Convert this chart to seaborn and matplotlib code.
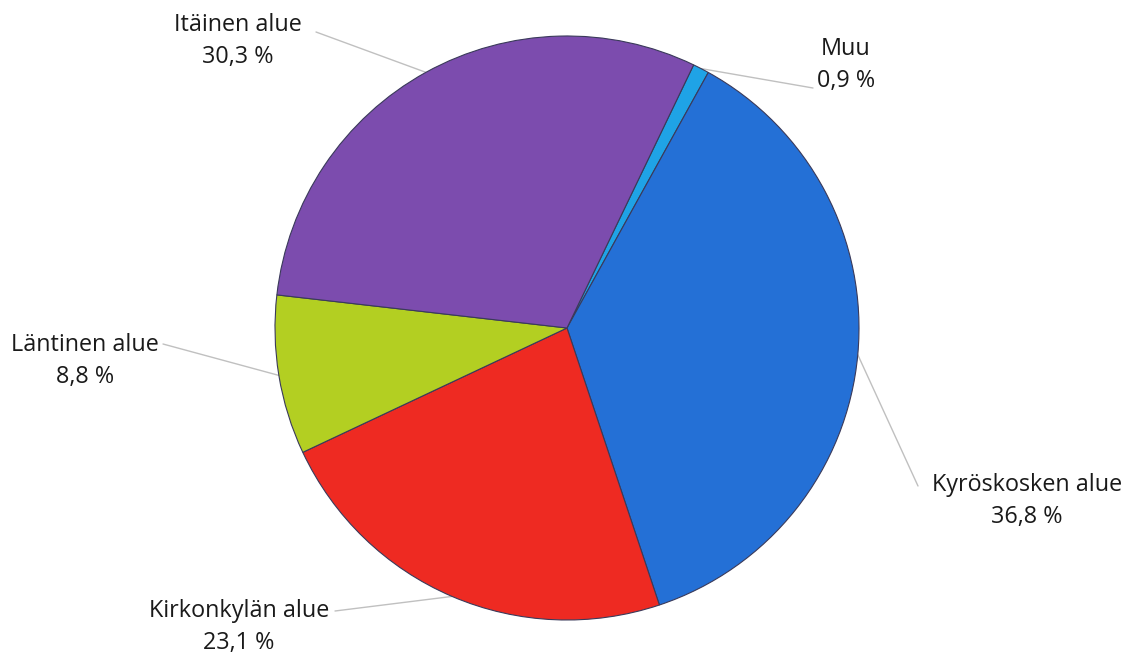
import matplotlib
matplotlib.use("Agg")
import matplotlib.pyplot as plt
import seaborn as sns
import numpy as np

categories = ["Muu", "Kyröskosken alue", "Kirkonkylän alue", "Läntinen alue", "Itäinen alue"]
values = [0.9, 36.8, 23.1, 8.8, 30.3]
value_labels = ["0,9 %", "36,8 %", "23,1 %", "8,8 %", "30,3 %"]
colors = ["#1fa3e6", "#2470d6", "#ee2a22", "#b3cf22", "#7c4cae"]

sns.set_theme(style="white")
plt.rcParams['font.family'] = ['Open Sans', 'DejaVu Sans']

W, H = 1124, 653
fig = plt.figure(figsize=(W / 100, H / 100), dpi=100)
ax = fig.add_axes([0, 0, 1, 1])

cx, cy, r = 567, H - 328, 292
wedges, _ = ax.pie(values, colors=colors, startangle=64.3, counterclock=False,
                   center=(cx, cy), radius=r, frame=True,
                   wedgeprops=dict(edgecolor="#3a3a5a", linewidth=0.8))
ax.set_xlim(0, W)
ax.set_ylim(0, H)
ax.set_aspect("equal")
ax.axis("off")

# text positions (pixels, top-left origin) and line end points
text_pos = [(846, 65), (1027, 501), (239, 627), (85, 361), (238, 41)]
line_end = [(813, 88), (918, 486), (335, 611), (163, 344), (316, 32)]

for w, lab, val, tp, le in zip(wedges, categories, value_labels, text_pos, line_end):
    ang = np.deg2rad((w.theta1 + w.theta2) / 2)
    px, py = cx + r * np.cos(ang), cy + r * np.sin(ang)
    ax.plot([px, le[0]], [py, H - le[1]], color="#c0c0c0", lw=1.0, zorder=0)
    ax.text(tp[0], H - tp[1], f"{lab}\n{val}", ha="center", va="center",
            fontsize=16.8, color="#1a1a1a", linespacing=1.45)

fig.savefig("out.png", dpi=100, facecolor="white")
